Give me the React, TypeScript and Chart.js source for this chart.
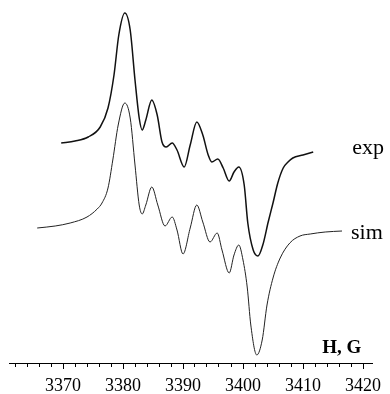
import { useEffect, useRef } from "react";
import { Chart, registerables } from "chart.js";

Chart.register(...registerables);

// Magnetic field, G
const EXP_FIELD = [
  3369.7, 3372.0, 3374.2, 3376.2, 3377.5, 3378.5, 3379.3, 3380.3, 3381.2, 3382.0,
  3382.7, 3383.2, 3383.8, 3384.8, 3385.7, 3386.5, 3387.2, 3388.2, 3389.0, 3390.2,
  3391.2, 3392.3, 3393.3, 3394.2, 3394.8, 3395.8, 3396.7, 3397.7, 3398.5, 3399.3,
  3400.2, 3400.8, 3401.7, 3402.5, 3403.3, 3404.2, 3405.0, 3405.8, 3406.7, 3407.5,
  3408.3, 3410.0, 3411.7,
];
// Experimental signal (arbitrary units, offset)
const EXP_SIGNAL = [
  220, 222, 226, 236, 255, 288, 328, 350, 333, 283,
  245, 233, 243, 263, 248, 221, 216, 220, 213, 196,
  218, 241, 228, 208, 201, 204, 195, 182, 191, 196,
  178, 140, 113, 107, 118, 141, 160, 180, 195, 201,
  205, 208, 211,
];

const SIM_FIELD = [
  3365.7, 3368.7, 3371.2, 3374.0, 3375.7, 3376.5, 3377.5, 3378.3, 3379.2, 3380.3,
  3381.2, 3382.0, 3382.7, 3383.2, 3383.8, 3384.8, 3385.8, 3387.0, 3388.2, 3389.0,
  3390.0, 3391.2, 3392.3, 3393.3, 3394.5, 3395.7, 3396.5, 3397.7, 3398.5, 3399.3,
  3400.0, 3400.7, 3401.3, 3402.3, 3403.2, 3404.0, 3405.0, 3406.2, 3407.8, 3409.5,
  3411.2, 3413.7, 3416.5,
];
// Simulated signal (arbitrary units, offset)
const SIM_SIGNAL = [
  135, 137, 140, 146, 154, 160, 175, 203, 238, 260,
  245, 198, 158, 149, 158, 176, 158, 137, 146, 133,
  109, 135, 158, 141, 121, 130, 113, 90, 108, 118,
  103, 76, 38, 8, 23, 58, 85, 105, 120, 127,
  129, 131, 132,
];

const TICK_VALUES = [
  3362, 3364, 3366, 3368, 3370, 3372, 3374, 3376, 3378, 3380,
  3382, 3384, 3386, 3388, 3390, 3392, 3394, 3396, 3398, 3400,
  3402, 3404, 3406, 3408, 3410, 3412, 3414, 3416, 3418, 3420,
];
const LABELED_TICKS = [3370, 3380, 3390, 3400, 3410, 3420];

const X_MIN = 3361;
const X_MAX = 3421.5;
const Y_MIN = 0;
const Y_MAX = 355;

const TEXT_LABELS = [
  { text: "exp", x: 3418.2, y: 209.5, font: "22px 'Liberation Serif'" },
  { text: "sim", x: 3418.0, y: 124, font: "22px 'Liberation Serif'" },
  { text: "H, G", x: 3413.2, y: 10, font: "bold 19px 'Liberation Serif'" },
];

const textPlugin = {
  id: "curveTexts",
  afterDraw(chart: any) {
    const { ctx, scales } = chart;
    const xs = scales.x;
    const ys = scales.y;
    ctx.save();
    ctx.fillStyle = "#000";
    ctx.textAlign = "left";
    ctx.textBaseline = "alphabetic";
    for (const t of TEXT_LABELS) {
      ctx.font = t.font;
      ctx.fillText(t.text, xs.getPixelForValue(t.x), ys.getPixelForValue(t.y));
    }
    ctx.restore();
  },
};

export default function App() {
  const canvasRef = useRef<HTMLCanvasElement | null>(null);

  useEffect(() => {
    if (!canvasRef.current) return;
    const chart = new Chart(canvasRef.current, {
      type: "line",
      data: {
        datasets: [
          {
            label: "exp",
            data: EXP_FIELD.map((g, i) => ({ x: g, y: EXP_SIGNAL[i] })),
            borderColor: "#111",
            borderWidth: 1.5,
            pointRadius: 0,
            cubicInterpolationMode: "monotone",
            fill: false,
          },
          {
            label: "sim",
            data: SIM_FIELD.map((g, i) => ({ x: g, y: SIM_SIGNAL[i] })),
            borderColor: "#222",
            borderWidth: 1,
            pointRadius: 0,
            cubicInterpolationMode: "monotone",
            fill: false,
          },
        ],
      },
      options: {
        animation: false,
        responsive: false,
        events: [],
        layout: { padding: { left: 9, right: 18, top: 8, bottom: 0 } },
        plugins: {
          legend: { display: false },
          tooltip: { enabled: false },
        },
        scales: {
          x: {
            type: "linear",
            min: X_MIN,
            max: X_MAX,
            afterBuildTicks: (s: any) => {
              s.ticks = TICK_VALUES.map((v) => ({ value: v }));
            },
            afterFit: (s: any) => {
              s.paddingLeft = 0;
              s.paddingRight = 0;
              s.height = 31;
            },
            border: { display: true, color: "#000", width: 1 },
            grid: {
              display: true,
              drawOnChartArea: false,
              drawTicks: true,
              tickLength: 6,
              tickColor: "#000",
              tickWidth: 1,
              tickBorderDash: (c: any) =>
                c.tick && LABELED_TICKS.includes(c.tick.value) ? [] : [3, 20],
            },
            ticks: {
              autoSkip: false,
              maxRotation: 0,
              padding: 6,
              color: "#000",
              font: { family: "'Liberation Serif'", size: 18 },
              callback: (v: any) => (LABELED_TICKS.includes(Number(v)) ? String(v) : ""),
            },
          },
          y: {
            display: false,
            min: Y_MIN,
            max: Y_MAX,
          },
        },
      },
      plugins: [textPlugin],
    } as any);
    return () => chart.destroy();
  }, []);

  return (
    <div
      style={{
        position: "fixed",
        left: 0,
        top: 0,
        width: 390,
        height: 394,
        background: "#fff",
        overflow: "hidden",
      }}
    >
      <canvas ref={canvasRef} width={390} height={394} style={{ display: "block" }} />
    </div>
  );
}
